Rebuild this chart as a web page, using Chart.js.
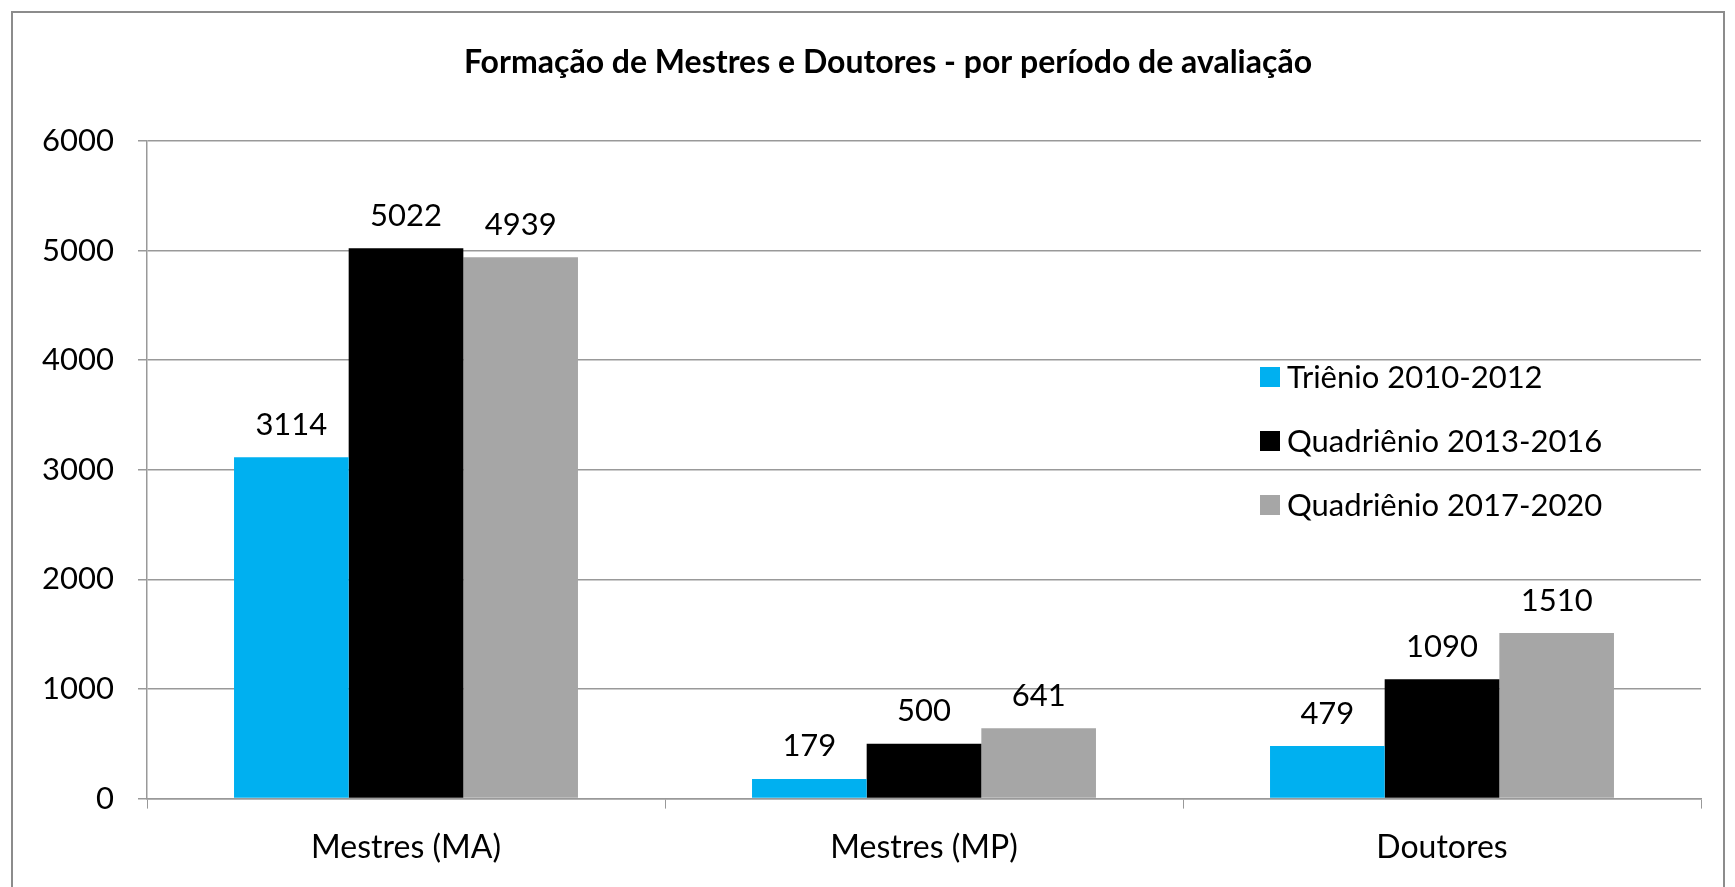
<!DOCTYPE html>
<html>
<head>
<meta charset="utf-8">
<script src="https://cdn.jsdelivr.net/npm/chart.js@4.4.1/dist/chart.umd.min.js"></script>
<style>
  body { margin: 0; background: #fff; }
  #wrap { position: relative; width: 1735px; height: 887px; }
  #frame { position: absolute; left: 11px; top: 11px; width: 1714px; height: 900px; border: 2px solid #8c8c8c; box-sizing: border-box; }
  canvas { position: absolute; left: 0; top: 0; }
</style>
</head>
<body>
<div id="wrap">
  <div id="frame"></div>
  <canvas id="grafico" width="1735" height="887"></canvas>
</div>
<script>
// Dados
const categorias = ['Mestres (MA)', 'Mestres (MP)', 'Doutores'];
const periodos = ['Triênio 2010-2012', 'Quadriênio 2013-2016', 'Quadriênio 2017-2020'];
const trienio2010 = [3114, 179, 479];
const quadrienio2013 = [5022, 500, 1090];
const quadrienio2017 = [4939, 641, 1510];
const cores = ['#00B0F0', '#000000', '#A6A6A6'];

const fonte = 'Lato, "Open Sans", sans-serif';

// Título, valores e legenda desenhados à mão
const extras = {
    id: 'extras',
    afterDatasetsDraw(chart) {
        const ctx = chart.ctx;
        ctx.save();
        ctx.fillStyle = '#000';
        ctx.textAlign = 'center';
        ctx.textBaseline = 'bottom';
        ctx.font = '31px ' + fonte;
        chart.data.datasets.forEach((ds, i) => {
            chart.getDatasetMeta(i).data.forEach((bar, j) => {
                ctx.fillText(ds.data[j], bar.x, bar.y - 17);
            });
        });
        // título
        ctx.font = 'bold 32px ' + fonte;
        ctx.textBaseline = 'middle';
        ctx.fillText('Formação de Mestres e Doutores - por período de avaliação', 888, 63);
        // legenda
        ctx.textAlign = 'left';
        ctx.font = '31px ' + fonte;
        chart.data.datasets.forEach((ds, i) => {
            const y = 377 + i * 64;
            ctx.fillStyle = ds.backgroundColor;
            ctx.fillRect(1260, y - 10, 20, 20);
            ctx.fillStyle = '#000';
            ctx.fillText(ds.label, 1287, y + 1);
        });
        ctx.restore();
    }
};

new Chart(document.getElementById('grafico'), {
    type: 'bar',
    data: {
        labels: categorias,
        datasets: [
            { label: periodos[0], data: trienio2010, backgroundColor: cores[0] },
            { label: periodos[1], data: quadrienio2013, backgroundColor: cores[1] },
            { label: periodos[2], data: quadrienio2017, backgroundColor: cores[2] }
        ]
    },
    options: {
        responsive: false,
        animation: false,
        categoryPercentage: 0.664,
        barPercentage: 1,
        layout: { padding: { top: 141, right: 34, bottom: 0, left: 0 } },
        plugins: { legend: { display: false }, title: { display: false }, tooltip: { enabled: false } },
        scales: {
            x: {
                grid: { offset: true, drawOnChartArea: false, color: '#999', tickLength: 10 },
                border: { color: '#999', width: 1.5 },
                ticks: { color: '#000', font: { family: fonte, size: 32 }, padding: 20 }
            },
            y: {
                min: 0, max: 6000,
                ticks: { stepSize: 1000, color: '#000', font: { family: fonte, size: 31 }, padding: 24,
                         callback: v => String(v) },
                grid: { color: '#999', lineWidth: 1.5, tickLength: 9 },
                border: { color: '#999', width: 1.5 },
                afterFit(scale) { scale.width = 147; }
            }
        }
    },
    plugins: [extras]
});
</script>
</body>
</html>
